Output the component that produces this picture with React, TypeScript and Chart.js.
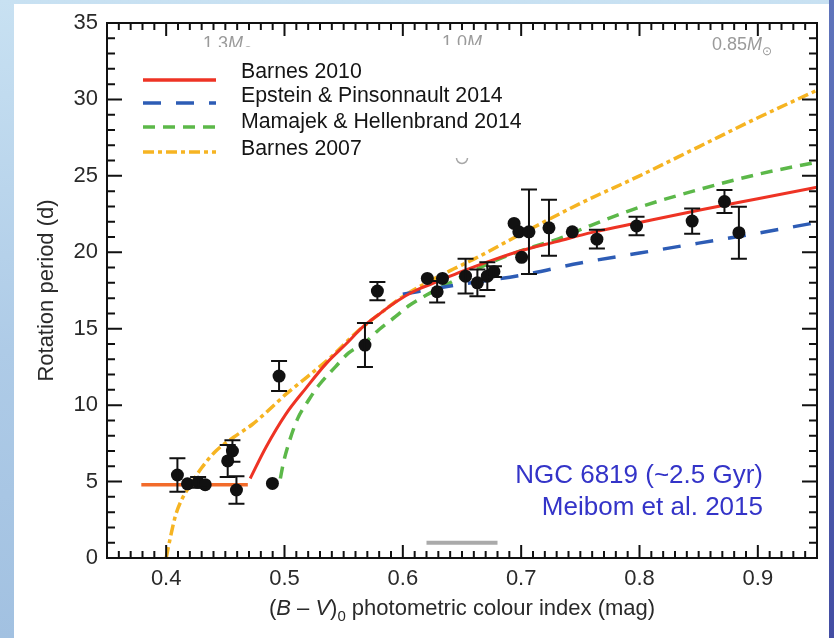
import React, { useEffect, useRef } from "react";
import { Chart, registerables } from "chart.js";

Chart.register(...registerables);

const FONT = '"Liberation Sans", Arial, Helvetica, sans-serif';

// NGC 6819 members: (B-V)0 colour, rotation period (d) and its 1-sigma error (0 = no bar)
const starColour = [0.4095, 0.418, 0.427, 0.433, 0.452, 0.456, 0.4594, 0.4898, 0.4954, 0.568, 0.5785, 0.6207, 0.629, 0.6335, 0.653, 0.663, 0.6714, 0.677, 0.694, 0.698, 0.7066, 0.7004, 0.7235, 0.7432, 0.764, 0.7975, 0.8445, 0.8718, 0.884];
const starPeriod = [5.43, 4.85, 4.95, 4.8, 6.35, 7.0, 4.45, 4.88, 11.9, 13.93, 17.46, 18.29, 17.42, 18.29, 18.44, 18.0, 18.44, 18.73, 21.89, 21.34, 21.34, 19.67, 21.6, 21.34, 20.86, 21.72, 22.04, 23.32, 21.28];
const starPeriodErr = [1.09, 0, 0.35, 0, 1.05, 0.7, 0.9, 0, 0.98, 1.44, 0.6, 0, 0.7, 0, 1.13, 0.87, 0.9, 0.35, 0, 0, 2.76, 0, 1.83, 0, 0.62, 0.6, 0.82, 0.75, 1.7];

// Gyrochronology isochrones at the cluster age
const barnes2010Colour = [0.471, 0.484, 0.501, 0.518, 0.535, 0.552, 0.566, 0.58, 0.594, 0.612, 0.625, 0.65, 0.68, 0.7, 0.73, 0.76, 0.8, 0.85, 0.9, 0.95];
const barnes2010Period = [5.2, 7.2, 9.4, 11.1, 12.7, 14.0, 15.1, 15.95, 16.75, 17.55, 17.95, 18.75, 19.6, 20.1, 20.7, 21.3, 21.95, 22.75, 23.5, 24.25];

const epsteinColour = [0.6, 0.64, 0.7, 0.75, 0.8, 0.85, 0.9, 0.95];
const epsteinPeriod = [17.25, 17.8, 18.5, 19.3, 19.95, 20.6, 21.25, 21.95];

const mamajekColour = [0.4965, 0.499, 0.504, 0.511, 0.521, 0.529, 0.543, 0.554, 0.568, 0.58, 0.594, 0.605, 0.62, 0.639, 0.66, 0.681, 0.7, 0.732, 0.757, 0.8, 0.85, 0.9, 0.95];
const mamajekPeriod = [5.2, 6.2, 7.6, 9.1, 10.4, 11.3, 12.5, 13.4, 14.1, 14.95, 15.8, 16.5, 17.2, 17.97, 18.8, 19.55, 20.1, 20.9, 21.7, 22.95, 24.1, 25.1, 25.9];

const barnes2007Colour = [0.4, 0.404, 0.408, 0.413, 0.419, 0.43, 0.442, 0.457, 0.473, 0.487, 0.501, 0.52, 0.54, 0.56, 0.58, 0.6, 0.62, 0.64, 0.66, 0.7, 0.75, 0.8, 0.85, 0.9, 0.95];
const barnes2007Period = [0, 1.5, 2.8, 3.8, 4.6, 5.9, 7.0, 7.9, 8.75, 9.7, 10.7, 11.9, 13.2, 14.7, 15.95, 17.1, 18.0, 18.8, 19.55, 21.2, 23.2, 25.0, 26.9, 28.8, 30.6];

// Fast-rotator branch of the Barnes 2010 model
const fastBranchColour = [0.379, 0.469];
const fastBranchPeriod = [4.8, 4.8];

// Solar-analogue colour range
const solarRangeColour = [0.62, 0.68];
const solarRangePeriod = [1.0, 1.0];

const xTicks = [0.4, 0.5, 0.6, 0.7, 0.8, 0.9];
const yTicks = [0, 5, 10, 15, 20, 25, 30, 35];

const pts = (xs: number[], ys: number[]) => xs.map((x, i) => ({ x, y: ys[i] }));

const errorBars = {
  id: "errorBars",
  afterDatasetsDraw(chart: any) {
    const { ctx, scales } = chart;
    const x = scales.x, y = scales.y;
    ctx.save();
    ctx.strokeStyle = "#111";
    ctx.lineWidth = 2;
    starColour.forEach((c, i) => {
      const e = starPeriodErr[i];
      if (!e) return;
      const px = x.getPixelForValue(c);
      const top = y.getPixelForValue(starPeriod[i] + e);
      const bot = y.getPixelForValue(starPeriod[i] - e);
      ctx.beginPath();
      ctx.moveTo(px, top); ctx.lineTo(px, bot);
      ctx.moveTo(px - 8, top); ctx.lineTo(px + 8, top);
      ctx.moveTo(px - 8, bot); ctx.lineTo(px + 8, bot);
      ctx.stroke();
    });
    ctx.restore();
  },
};

const frame = {
  id: "frame",
  afterDatasetsDraw(chart: any) {
    const { ctx, chartArea: a, scales } = chart;
    const x = scales.x, y = scales.y;
    ctx.save();
    ctx.strokeStyle = "#111";
    ctx.lineWidth = 2;
    ctx.beginPath();
    for (let i = 36; i <= 94; i++) {
      const px = x.getPixelForValue(i / 100);
      const len = i % 10 === 0 ? 13 : 7;
      ctx.moveTo(px, a.bottom); ctx.lineTo(px, a.bottom - len);
      ctx.moveTo(px, a.top); ctx.lineTo(px, a.top + len);
    }
    for (let j = 1; j < 35; j++) {
      const py = y.getPixelForValue(j);
      const len = j % 5 === 0 ? 15 : 8;
      ctx.moveTo(a.left, py); ctx.lineTo(a.left + len, py);
      ctx.moveTo(a.right, py); ctx.lineTo(a.right - len, py);
    }
    ctx.stroke();
    ctx.strokeRect(a.left, a.top, a.right - a.left, a.bottom - a.top);
    ctx.restore();
  },
};

type Part = { t: string; italic?: boolean; sub?: boolean };

function drawRich(ctx: CanvasRenderingContext2D, parts: Part[], x: number, baseline: number, size: number, align: "left" | "center") {
  const fontOf = (p: Part) => `${p.italic ? "italic " : ""}${p.sub ? Math.round(size * 0.68) : size}px ${FONT}`;
  let total = 0;
  parts.forEach((p) => { ctx.font = fontOf(p); total += ctx.measureText(p.t).width; });
  let cx = align === "center" ? x - total / 2 : x;
  ctx.textAlign = "left";
  ctx.textBaseline = "alphabetic";
  parts.forEach((p) => {
    ctx.font = fontOf(p);
    ctx.fillText(p.t, cx, baseline + (p.sub ? size * 0.25 : 0));
    cx += ctx.measureText(p.t).width;
  });
}

const annotations = {
  id: "annotations",
  afterDraw(chart: any) {
    const { ctx, chartArea: a } = chart;
    ctx.save();

    // legend
    const rows = [1, 2, 3, 4];
    const lineY = [80, 103, 127, 152];
    const textY = [78, 102, 128, 155];
    rows.forEach((di, i) => {
      const ds = chart.data.datasets[di];
      ctx.save();
      ctx.strokeStyle = ds.borderColor;
      ctx.lineWidth = 3.5;
      ctx.setLineDash(ds.borderDash || []);
      ctx.beginPath();
      ctx.moveTo(143, lineY[i]);
      ctx.lineTo(216, lineY[i]);
      ctx.stroke();
      ctx.restore();
      ctx.fillStyle = "#151515";
      ctx.font = `21.3px ${FONT}`;
      ctx.textAlign = "left";
      ctx.textBaseline = "alphabetic";
      ctx.fillText(ds.label, 241, textY[i]);
    });

    // stellar mass markers along the top
    ctx.fillStyle = "#9a9a9a";
    const massLabel = (t: string, x: number, base: number, clipY: number | null) => {
      ctx.save();
      if (clipY !== null) {
        ctx.beginPath();
        ctx.rect(x - 5, 0, 120, clipY);
        ctx.clip();
      }
      drawRich(ctx, [{ t }, { t: "M", italic: true }, { t: "⊙", sub: true }], x, base, 18, "left");
      ctx.restore();
    };
    massLabel("1.3", 203, 49, 47);
    massLabel("1.0", 442, 48, 45);
    massLabel("0.85", 712, 50, null);
    ctx.save();
    ctx.beginPath();
    ctx.rect(450, 158, 25, 12);
    ctx.clip();
    ctx.strokeStyle = "#a8a8a8";
    ctx.lineWidth = 1.5;
    ctx.beginPath();
    ctx.arc(462, 158, 5.5, 0, Math.PI * 2);
    ctx.stroke();
    ctx.restore();

    // cluster caption
    ctx.fillStyle = "#3434c8";
    ctx.font = `26px ${FONT}`;
    ctx.textAlign = "right";
    ctx.textBaseline = "alphabetic";
    ctx.fillText("NGC 6819 (~2.5 Gyr)", 763, 483);
    ctx.fillText("Meibom et al. 2015", 763, 515);

    // axis titles
    ctx.fillStyle = "#2a2a2a";
    drawRich(
      ctx,
      [{ t: "(" }, { t: "B", italic: true }, { t: " – " }, { t: "V", italic: true }, { t: ")" }, { t: "0", sub: true }, { t: " photometric colour index (mag)" }],
      (a.left + a.right) / 2,
      615,
      22,
      "center"
    );
    ctx.save();
    ctx.translate(53, (a.top + a.bottom) / 2);
    ctx.rotate(-Math.PI / 2);
    ctx.font = `22px ${FONT}`;
    ctx.textAlign = "center";
    ctx.textBaseline = "alphabetic";
    ctx.fillText("Rotation period (d)", 0, 0);
    ctx.restore();

    ctx.restore();
  },
};

export default function App() {
  const canvasRef = useRef<HTMLCanvasElement | null>(null);

  useEffect(() => {
    if (!canvasRef.current) return;
    const line = (label: string, xs: number[], ys: number[], color: string, width: number, dash: number[], order: number) => ({
      label,
      data: pts(xs, ys),
      showLine: true,
      borderColor: color,
      backgroundColor: color,
      borderWidth: width,
      borderDash: dash,
      pointRadius: 0,
      cubicInterpolationMode: "monotone",
      order,
    });
    const chart = new Chart(canvasRef.current, {
      type: "scatter",
      data: {
        datasets: [
          {
            label: "NGC 6819",
            data: pts(starColour, starPeriod),
            showLine: false,
            pointRadius: 6.5,
            pointBackgroundColor: "#111",
            pointBorderColor: "#111",
            pointBorderWidth: 0,
            order: 0,
          } as any,
          line("Barnes 2010", barnes2010Colour, barnes2010Period, "#ee3324", 3, [], 1),
          line("Epstein & Pinsonnault 2014", epsteinColour, epsteinPeriod, "#2d5cb5", 3.5, [18, 15], 2),
          line("Mamajek & Hellenbrand 2014", mamajekColour, mamajekPeriod, "#5cb849", 3.5, [12, 8], 3),
          line("Barnes 2007", barnes2007Colour, barnes2007Period, "#f6b422", 3.5, [11, 4, 4, 4], 4),
          line("Barnes 2010 fast branch", fastBranchColour, fastBranchPeriod, "#f26b2a", 3.5, [], 5),
          line("Solar colour range", solarRangeColour, solarRangePeriod, "#aaaaaa", 4, [], 6),
        ] as any,
      },
      options: {
        animation: false,
        responsive: true,
        maintainAspectRatio: false,
        layout: { padding: { left: 0, top: 23, right: 17, bottom: 0 } },
        plugins: { legend: { display: false }, tooltip: { enabled: false } },
        scales: {
          x: {
            type: "linear",
            min: 0.35,
            max: 0.95,
            grid: { display: false, drawTicks: false },
            border: { display: false },
            afterBuildTicks: (s: any) => { s.ticks = xTicks.map((value) => ({ value })); },
            afterFit: (s: any) => { s.height = 80; },
            ticks: {
              padding: 8,
              color: "#2a2a2a",
              font: { family: FONT, size: 22 },
              callback: (v: any) => Number(v).toFixed(1),
              maxRotation: 0,
            },
          },
          y: {
            type: "linear",
            min: 0,
            max: 35,
            grid: { display: false, drawTicks: false },
            border: { display: false },
            afterBuildTicks: (s: any) => { s.ticks = yTicks.map((value) => ({ value })); },
            afterFit: (s: any) => { s.width = 107; },
            ticks: {
              padding: 9,
              color: "#2a2a2a",
              font: { family: FONT, size: 22 },
              callback: (v: any) => String(v),
            },
          },
        },
      } as any,
      plugins: [errorBars, frame, annotations],
    });
    return () => chart.destroy();
  }, []);

  return (
    <div
      style={{
        position: "fixed",
        left: 0,
        top: 0,
        width: 834,
        height: 638,
        overflow: "hidden",
        background: "linear-gradient(to bottom, #c8e1f2 0%, #aecbe7 55%, #a2c1e1 100%)",
      }}
    >
      <div style={{ position: "absolute", left: 829, top: 0, width: 5, height: 638, background: "linear-gradient(to bottom, #5f74bb, #434da3)" }} />
      <div style={{ position: "absolute", left: 14, top: 4, width: 815, height: 634, background: "#ffffff" }} />
      <div style={{ position: "absolute", left: 0, top: 0, width: 834, height: 638 }}>
        <canvas ref={canvasRef} />
      </div>
    </div>
  );
}
